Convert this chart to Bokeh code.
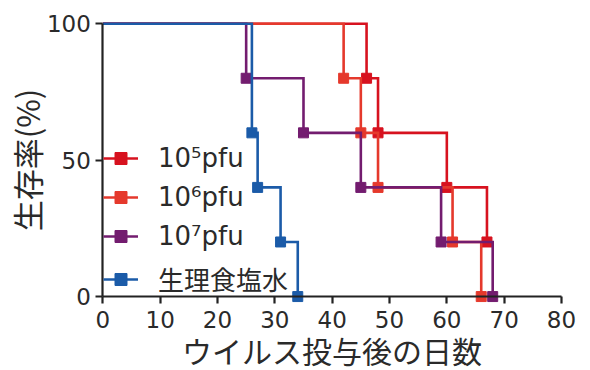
from bokeh.plotting import figure
from bokeh.models import Range1d, Legend, LegendItem, FixedTicker, LinearAxis
from bokeh.embed import file_html
from bokeh.resources import INLINE

# ---- data ----
days_1e5 = [0, 46, 48, 60, 67]
surv_1e5 = [100, 80, 60, 40, 20]

days_1e6 = [0, 42, 45, 48, 61, 66]
surv_1e6 = [100, 80, 60, 40, 20, 0]

days_1e7 = [0, 25, 35, 45, 59, 68]
surv_1e7 = [100, 80, 60, 40, 20, 0]

days_saline = [0, 26, 27, 31, 34]
surv_saline = [100, 60, 40, 20, 0]

labels = ["10\u2075pfu", "10\u2076pfu", "10\u2077pfu", "生理食塩水"]
colors = ["#d7121f", "#e5392c", "#731c6f", "#1b5ba8"]
x_ticks = [0, 10, 20, 30, 40, 50, 60, 70, 80]
y_ticks = [0, 50, 100]
x_title = "ウイルス投与後の日数"
y_title = "生存率(%)"

series = [(days_1e5, surv_1e5), (days_1e6, surv_1e6), (days_1e7, surv_1e7), (days_saline, surv_saline)]

W, H = 590, 370
# frame covers the whole canvas; axes are pinned at x=0 / y=0
p = figure(width=W, height=H, output_backend="svg", toolbar_location=None,
           x_axis_location=None, y_axis_location=None,
           x_range=Range1d(-17.85, 85.06), y_range=Range1d(-27.1, 108.5),
           min_border_left=0, min_border_right=0, min_border_top=0, min_border_bottom=0)
p.outline_line_color = None
p.xgrid.visible = False
p.ygrid.visible = False
p.background_fill_color = "white"
p.border_fill_color = "white"

ink = "#222222"
txt = "#2a2a2a"
tick_font = "DejaVu Sans"
title_font = "Noto Sans CJK JP"

common = dict(axis_line_width=2.2, axis_line_color=ink,
              major_tick_line_width=2.2, major_tick_line_color=ink,
              major_tick_out=7, major_tick_in=0, minor_tick_line_color=None,
              major_label_text_font=tick_font, major_label_text_font_size="23px",
              major_label_text_color=txt,
              axis_label_text_font=title_font,
              axis_label_text_font_style="normal", axis_label_text_color=txt)

ya = LinearAxis(ticker=FixedTicker(ticks=y_ticks), fixed_location=0, bounds=(0, 100),
                major_label_standoff=5, axis_label=y_title, axis_label_standoff=-5,
                axis_label_text_font_size="31px", **common)
p.add_layout(ya, "left")

xa = LinearAxis(ticker=FixedTicker(ticks=x_ticks), fixed_location=0, bounds=(0, 80),
                major_label_standoff=7, axis_label=x_title, axis_label_standoff=-3,
                axis_label_text_font_size="30px", **common)
p.add_layout(xa, "below")

items = []
for (xs, ys), lab, col in zip(series, labels, colors):
    r_line = p.step(xs, ys, mode="after", line_width=2.6, line_color=col, line_join="miter")
    r_pts = p.scatter(xs[1:], ys[1:], marker="square", size=10, fill_color=col, line_color=col)
    items.append(LegendItem(label=lab, renderers=[r_line, r_pts]))

legend = Legend(items=items, location=(103, 73), orientation="vertical",
                background_fill_alpha=0, border_line_alpha=0,
                padding=0, margin=0, spacing=9,
                glyph_width=35, glyph_height=30, label_height=30,
                label_standoff=20,
                label_text_font="DejaVu Sans, Noto Sans CJK JP",
                label_text_font_size="26px", label_text_color=txt)
p.add_layout(legend, "center")

open("out.html", "w").write(file_html(p, INLINE))
